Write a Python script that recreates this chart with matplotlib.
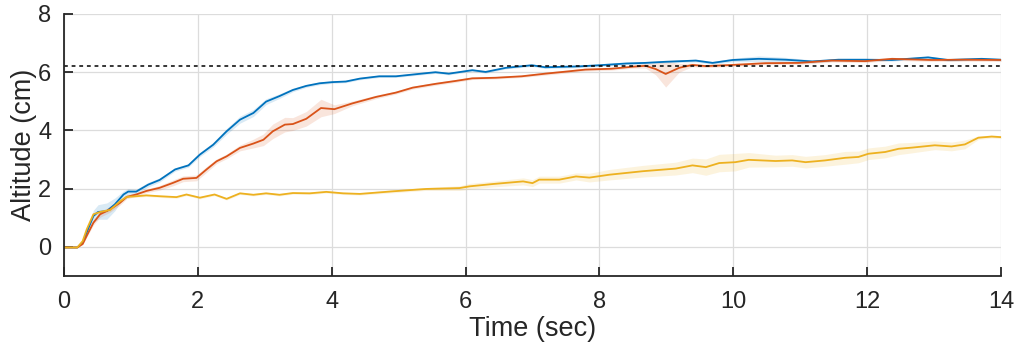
import numpy as np
import matplotlib
matplotlib.use('Agg')
import matplotlib.pyplot as plt

#%%----- data ------------------------------------------------------------------
t_blue = [0, 0.2, 0.28, 0.34, 0.44, 0.51, 0.64, 0.76, 0.89, 0.96, 1.08, 1.26, 1.43,
          1.66, 1.86, 2.03, 2.23, 2.43, 2.63, 2.83, 3.02, 3.22, 3.42, 3.62, 3.82,
          4.01, 4.21, 4.42, 4.71, 4.96, 5.21, 5.55, 5.75, 6.1, 6.3, 6.6, 6.99, 7.19,
          7.69, 8.0, 8.4, 8.68, 9.0, 9.44, 9.69, 9.99, 10.38, 10.78, 11.18, 11.57,
          11.97, 12.37, 12.91, 13.21, 13.71, 14.0]
y_blue = [-0.02, -0.02, 0.15, 0.5, 1.06, 1.2, 1.23, 1.46, 1.8, 1.9, 1.9, 2.14, 2.3,
          2.66, 2.8, 3.17, 3.51, 3.97, 4.37, 4.6, 4.99, 5.18, 5.39, 5.53, 5.62,
          5.66, 5.68, 5.78, 5.86, 5.86, 5.92, 6.0, 5.95, 6.07, 6.01, 6.15, 6.24, 6.17,
          6.2, 6.24, 6.3, 6.32, 6.36, 6.4, 6.32, 6.42, 6.46, 6.43, 6.37, 6.43,
          6.43, 6.42, 6.51, 6.42, 6.46, 6.43]
e_blue = [0, 0, 0.02, 0.1, 0.2, 0.25, 0.28, 0.22, 0.12, 0.1, 0.08, 0.08, 0.07,
          0.06, 0.06, 0.07, 0.08, 0.1, 0.12, 0.12, 0.1, 0.08, 0.06, 0.05, 0.05,
          0.04, 0.04, 0.04, 0.04, 0.04, 0.04, 0.04, 0.04, 0.04, 0.04, 0.04, 0.04, 0.04,
          0.04, 0.04, 0.04, 0.04, 0.04, 0.05, 0.05, 0.06, 0.1, 0.08, 0.05, 0.04,
          0.04, 0.04, 0.04, 0.04, 0.04, 0.04]

t_red = [0, 0.2, 0.28, 0.34, 0.44, 0.54, 0.69, 0.84, 0.94, 1.08, 1.23, 1.43, 1.63,
         1.78, 1.98, 2.13, 2.28, 2.43, 2.63, 2.83, 2.98, 3.12, 3.3, 3.42, 3.62,
         3.84, 4.04, 4.31, 4.66, 4.96, 5.21, 5.55, 5.85, 6.1, 6.45, 6.84, 7.19,
         7.54, 7.79, 8.18, 8.5, 8.69, 8.84, 8.99, 9.19, 9.39, 9.59, 9.99, 10.48,
         10.98, 11.47, 11.97, 12.37, 12.96, 13.46, 14.0]
y_red = [-0.02, -0.02, 0.1, 0.38, 0.83, 1.12, 1.29, 1.52, 1.72, 1.8, 1.92, 2.03, 2.2,
         2.34, 2.37, 2.66, 2.94, 3.11, 3.4, 3.55, 3.68, 3.97, 4.2, 4.22, 4.4,
         4.77, 4.73, 4.93, 5.15, 5.3, 5.47, 5.6, 5.7, 5.79, 5.81, 5.86, 5.95,
         6.03, 6.09, 6.12, 6.19, 6.22, 6.11, 5.94, 6.15, 6.25, 6.21, 6.25, 6.31,
         6.32, 6.4, 6.38, 6.46, 6.42, 6.43, 6.42]
e_red = [0, 0, 0.02, 0.05, 0.08, 0.1, 0.1, 0.08, 0.06, 0.06, 0.06, 0.08, 0.1,
         0.1, 0.1, 0.1, 0.08, 0.08, 0.1, 0.15, 0.2, 0.25, 0.25, 0.22, 0.25,
         0.3, 0.15, 0.08, 0.06, 0.05, 0.05, 0.05, 0.05, 0.04, 0.04, 0.04, 0.05,
         0.05, 0.05, 0.05, 0.05, 0.08, 0.2, 0.45, 0.15, 0.06, 0.05, 0.05, 0.05,
         0.05, 0.05, 0.05, 0.05, 0.05, 0.05, 0.05]

t_yel = [0, 0.2, 0.28, 0.34, 0.44, 0.54, 0.69, 0.84, 0.94, 1.08, 1.23, 1.43, 1.68,
         1.83, 2.03, 2.25, 2.43, 2.63, 2.83, 3.02, 3.22, 3.42, 3.67, 3.92, 4.17,
         4.42, 4.92, 5.41, 5.91, 6.06, 6.41, 6.86, 7.0, 7.1, 7.4, 7.65, 7.85, 8.15,
         8.65, 9.14, 9.39, 9.59, 9.79, 10.03, 10.23, 10.63, 10.88, 11.08, 11.37,
         11.67, 11.87, 12.02, 12.27, 12.47, 12.67, 13.01, 13.26, 13.46, 13.66,
         13.86, 14.0]
y_yel = [-0.02, -0.02, 0.2, 0.6, 1.12, 1.2, 1.27, 1.57, 1.72, 1.74, 1.77, 1.74, 1.71,
         1.8, 1.69, 1.8, 1.65, 1.84, 1.79, 1.84, 1.79, 1.85, 1.84, 1.89, 1.84,
         1.82, 1.91, 1.99, 2.02, 2.08, 2.16, 2.25, 2.19, 2.31, 2.31, 2.42, 2.38, 2.48,
         2.6, 2.69, 2.8, 2.74, 2.88, 2.91, 2.99, 2.95, 2.97, 2.91, 2.97,
         3.06, 3.09, 3.2, 3.26, 3.37, 3.41, 3.49, 3.45, 3.52, 3.75,
         3.79, 3.77]
e_yel = [0, 0, 0.02, 0.05, 0.05, 0.05, 0.05, 0.05, 0.04, 0.04, 0.04, 0.04, 0.04,
         0.04, 0.04, 0.04, 0.04, 0.04, 0.04, 0.04, 0.04, 0.04, 0.04, 0.04, 0.04,
         0.04, 0.05, 0.05, 0.08, 0.1, 0.1, 0.12, 0.12, 0.12, 0.12, 0.12, 0.15, 0.18,
         0.2, 0.22, 0.25, 0.28, 0.3, 0.3, 0.25, 0.2, 0.2, 0.2, 0.2,
         0.22, 0.2, 0.2, 0.2, 0.2, 0.18, 0.15, 0.15, 0.15, 0.06,
         0.05, 0.05]

target = 6.2

#%%----- plot -------------------------------------------------------------------
plt.rcParams['font.family'] = ['Liberation Sans', 'DejaVu Sans']
fig = plt.figure(figsize=(10.2, 3.56), dpi=100)
ax = fig.add_axes([0.0627, 0.2247, 0.9187, 0.736])

series = [(t_blue, y_blue, e_blue, '#0072BD'),
          (t_red, y_red, e_red, '#D95319'),
          (t_yel, y_yel, e_yel, '#EDB120')]
for t, y, e, c in series:
    t = np.array(t); y = np.array(y); e = np.array(e)
    ax.fill_between(t, y - e, y + e, color=c, alpha=0.15, lw=0)
for t, y, e, c in series:
    ax.plot(t, y, color=c, lw=1.3)

ax.axhline(target, color='k', lw=1.1, ls=(0, (2.5, 2.5)))

ax.set_xlim(0, 14)
ax.set_ylim(-1, 8)
ax.set_xticks(np.arange(0, 15, 2))
ax.set_yticks(np.arange(0, 9, 2))
ax.grid(True, color='#dcdcdc', lw=0.9)
ax.set_axisbelow(True)
ax.spines['top'].set_visible(False)
ax.spines['right'].set_visible(False)
ax.spines['left'].set_color('#262626')
ax.spines['bottom'].set_color('#262626')
ax.spines['left'].set_linewidth(1.3)
ax.spines['bottom'].set_linewidth(1.3)
ax.tick_params(direction='in', length=6.5, width=1.3, colors='#262626',
               labelsize=17)
ax.tick_params(axis='x', pad=11)
ax.tick_params(axis='y', pad=9)
ax.set_xlabel('Time (sec)', fontsize=19.5, color='#262626', labelpad=2)
ax.set_ylabel('Altitude (cm)', fontsize=19.5, color='#262626', labelpad=1)

plt.savefig('out.png', dpi=100)
